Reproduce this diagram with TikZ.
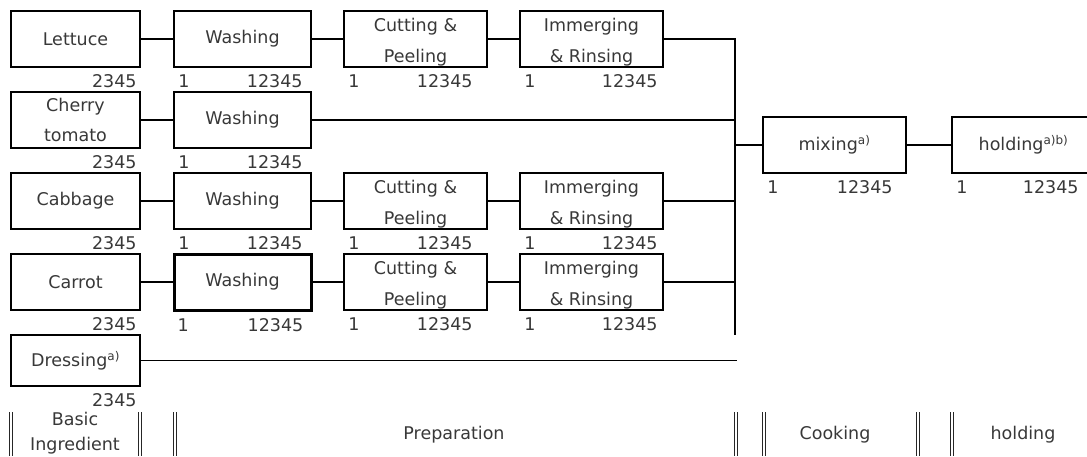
\documentclass[tikz,border=0pt]{standalone}
\usepackage{fontspec}
\setmainfont{DejaVu Sans}
\newcommand{\tallstrut}{\rule{0pt}{20pt}}
\begin{document}
\begin{tikzpicture}[x=1pt,y=-1pt,
  box/.style={draw=black, line width=1.6pt, inner sep=0pt, minimum height=56pt,
    align=center, text=black!78, font=\fontsize{17.5}{30.5}\selectfont},
  thickbox/.style={box, line width=3pt},
  num/.style={inner sep=0pt, text=black!78, font=\fontsize{17.5}{20}\selectfont},
  conn/.style={line width=1.5pt},
  thickconn/.style={line width=2.3pt},
  hdr/.style={inner sep=0pt, align=center, text=black!78, font=\fontsize{17.5}{25}\selectfont},
  sep/.style={line width=0.9pt, black!85}]
\useasboundingbox (0,0) rectangle (1087,457);
\begin{scope}
\clip (0,0) rectangle (1087,457);
% row 1
\node[box, minimum width=129pt] (let) at (75.5,39) {Lettuce};
\node[box, minimum width=137pt] (w1) at (242.5,39) {Washing};
\node[box, minimum width=143pt] (c1) at (415.5,39) {\tallstrut Cutting \&\\Peeling};
\node[box, minimum width=143pt] (i1) at (591.5,39) {\tallstrut Immerging\\\& Rinsing};
% row 2
\node[box, minimum width=129pt] (che) at (75.5,120) {Cherry\\tomato};
\node[box, minimum width=137pt] (w2) at (242.5,120) {Washing};
% row 3
\node[box, minimum width=129pt] (cab) at (75.5,201) {Cabbage};
\node[box, minimum width=137pt] (w3) at (242.5,201) {Washing};
\node[box, minimum width=143pt] (c3) at (415.5,201) {\tallstrut Cutting \&\\Peeling};
\node[box, minimum width=143pt] (i3) at (591.5,201) {\tallstrut Immerging\\\& Rinsing};
% row 4
\node[box, minimum width=129pt] (car) at (75.5,282) {Carrot};
\node[thickbox, minimum width=137pt] (w4) at (242.5,282) {Washing};
\node[box, minimum width=143pt] (c4) at (415.5,282) {\tallstrut Cutting \&\\Peeling};
\node[box, minimum width=143pt] (i4) at (591.5,282) {\tallstrut Immerging\\\& Rinsing};
% dressing
\node[box, minimum width=129pt, minimum height=51pt] (dre) at (75.5,360.5) {Dressing\textsuperscript{\fontsize{12}{12}\selectfont a)}};
% mixing, holding
\node[box, minimum width=143pt] (mix) at (834.5,145) {mixing\textsuperscript{\fontsize{12}{12}\selectfont a)}};
\node[box, minimum width=143pt] (hol) at (1023.5,145) {holding\textsuperscript{\fontsize{12}{12}\selectfont a)b)}};

% junction coordinates
\coordinate (j1) at (735,39);
\coordinate (j2) at (735,120);
\coordinate (j3) at (735,201);
\coordinate (j4) at (735,282);
\coordinate (jm) at (735,145);
\coordinate (jb) at (735,335);
\coordinate (jd) at (737,360.5);

% connectors
\draw[conn] (let) -- (w1);
\draw[conn] (w1) -- (c1);
\draw[conn] (c1) -- (i1);
\draw[thickconn] (i1) -- (j1);
\draw[conn] (che) -- (w2);
\draw[conn] (w2) -- (j2);
\draw[conn] (cab) -- (w3);
\draw[conn] (w3) -- (c3);
\draw[thickconn] (c3) -- (i3);
\draw[conn] (i3) -- (j3);
\draw[conn] (car) -- (w4);
\draw[conn] (w4) -- (c4);
\draw[conn] (c4) -- (i4);
\draw[conn] (i4) -- (j4);
\draw[conn] (dre) -- (jd);
\draw[conn] ([yshift=0.8pt]j1) -- (jb);
\draw[conn] (jm) -- (mix);
\draw[conn] (mix) -- (hol);

% numbers
\foreach \b in {let,che,cab,car,dre}{
  \node[num, anchor=base east] (n\b) at ([xshift=-4pt,yshift=-20pt]\b.south east) {2345};
}
\foreach \b/\d in {w1/9,w2/9,w3/9,w4/9,c1/15,c3/15,c4/15,i1/6,i3/6,i4/6,mix/14,hol/17}{
  \node[num, anchor=base west] (a\b) at ([xshift=5pt,yshift=-20pt]\b.south west) {1};
  \node[num, anchor=base east] (b\b) at ([xshift=-\d pt,yshift=-20pt]\b.south east) {12345};
}
\end{scope}

% bottom header
\foreach \x in {9,12,138,141,173,176,734,737,762,765,916,919,950,953}{
  \draw[sep] (\x,412) -- (\x,456);
}
\node[hdr] (hbasic) at (75,433) {Basic\\Ingredient};
\node[hdr] (hprep) at (454,435) {Preparation};
\node[hdr] (hcook) at (835,435) {Cooking};
\node[hdr] (hhold) at (1023,435) {holding};
\end{tikzpicture}
\end{document}
